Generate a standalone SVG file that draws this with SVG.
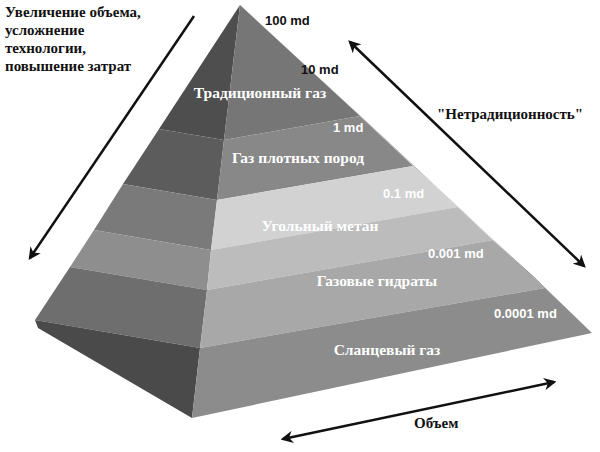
<svg xmlns="http://www.w3.org/2000/svg" width="600" height="452" viewBox="0 0 600 452">
<defs>
<style>
.t{font-family:"Liberation Serif",serif;font-weight:bold;font-size:15px;fill:#111}
.w{font-family:"Liberation Serif",serif;font-weight:bold;font-size:15.5px;fill:#fff;text-anchor:middle}
.m{font-family:"Liberation Sans",sans-serif;font-weight:bold;font-size:13px}
.a{stroke:#111;stroke-width:2.5;fill:none}
</style>
<marker id="h" viewBox="0 0 10 10" refX="8" refY="5" markerWidth="5" markerHeight="5" orient="auto-start-reverse"><path d="M0,0L10,5L0,10L3,5z" fill="#111"/></marker>
</defs>
<rect width="600" height="452" fill="#fff"/>
<g id="left-face">
<polygon points="240,5 159,129 224,140" fill="#4e4e4e"/>
<polygon points="159,129 123,184 217,200 224,140" fill="#5c5c5c"/>
<polygon points="123,184 94,230 211,250 217,200" fill="#7a7a7a"/>
<polygon points="94,230 70,267 207,290 211,250" fill="#8e8e8e"/>
<polygon points="70,267 35,320 200,348 207,290" fill="#6e6e6e"/>
<polygon points="35,320 200,348 192,418 38,328" fill="#4a4a4a"/>
</g>
<g id="front-face">
<polygon points="240,5 224,140 360,116" fill="#767676"/>
<polygon points="224,140 217,200 413,166 360,116" fill="#888"/>
<polygon points="217,200 211,250 458,207 413,166" fill="#d2d2d2"/>
<polygon points="211,250 207,290 493,240 458,207" fill="#bcbcbc"/>
<polygon points="207,290 200,348 545,288 493,240" fill="#a8a8a8"/>
<polygon points="200,348 545,288 592,333 192,418" fill="#8c8c8c"/>
</g>
<g id="right-face">
<polygon points="240,5 360,116 379,133" fill="#999"/>
<polygon points="360,116 413,166 440,190 379,133" fill="#a9a9a9"/>
<polygon points="413,166 458,207 491,237 440,190" fill="#c6c6c6"/>
<polygon points="458,207 493,240 532,275 491,237" fill="#e6e6e6"/>
<polygon points="493,240 545,288 592,333 532,275" fill="#777"/>
</g>
<g id="labels">
<text class="w" x="260" y="98">Традиционный газ</text>
<text class="w" x="298" y="163">Газ плотных пород</text>
<text class="w" x="320" y="231">Угольный метан</text>
<text class="w" x="377" y="286">Газовые гидраты</text>
<text class="w" x="387" y="355">Сланцевый газ</text>
<text class="m" x="265" y="25" fill="#111">100 md</text>
<text class="m" x="301" y="74" fill="#111">10 md</text>
<text class="m" x="333" y="132" fill="#fff">1 md</text>
<text class="m" x="383" y="198" fill="#fff">0.1 md</text>
<text class="m" x="428" y="258" fill="#fff">0.001 md</text>
<text class="m" x="494" y="318" fill="#fff">0.0001 md</text>
</g>
<g id="connectors">
<line class="a" x1="194" y1="16" x2="30" y2="258" marker-end="url(#h)"/>
<line class="a" x1="350" y1="42" x2="584" y2="266" marker-start="url(#h)" marker-end="url(#h)"/>
<line class="a" x1="283" y1="439" x2="554" y2="382" marker-start="url(#h)" marker-end="url(#h)"/>
</g>
<g id="texts">
<text class="t" x="5" y="17">Увеличение объема,</text>
<text class="t" x="5" y="35">усложнение</text>
<text class="t" x="5" y="53">технологии,</text>
<text class="t" x="5" y="71">повышение затрат</text>
<text class="t" x="437" y="119">"Нетрадиционность"</text>
<text class="t" x="414" y="428">Объем</text>
</g>
</svg>
